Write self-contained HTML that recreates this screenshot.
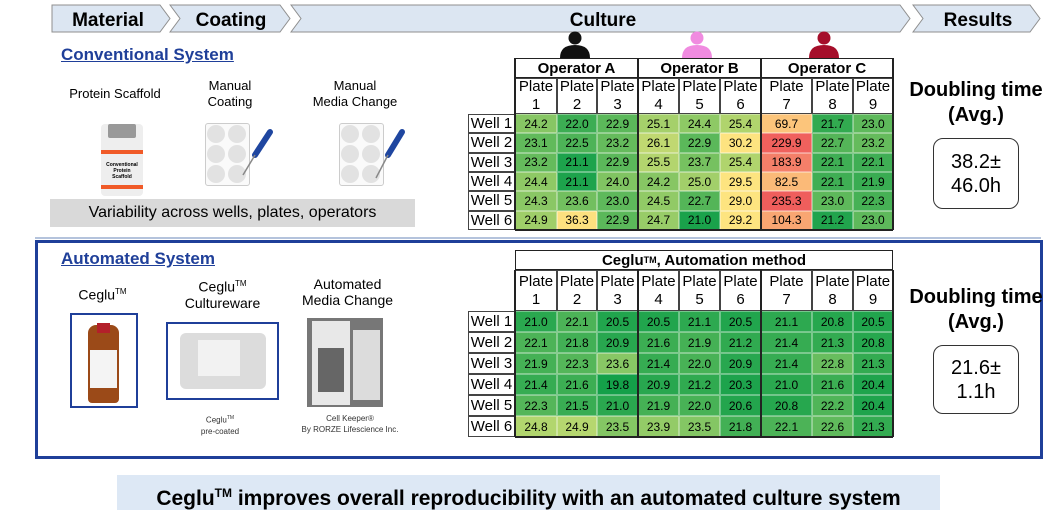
<!DOCTYPE html>
<html><head><meta charset="utf-8"><style>
body{margin:0;width:1059px;height:520px;background:#fff;position:relative;overflow:hidden;font-family:"Liberation Sans",Arial,sans-serif;color:#000}
.a{position:absolute}
.cell{position:absolute;box-sizing:border-box;display:flex;align-items:center;justify-content:center;text-align:center}
.lnk{color:#1f3f99;font-weight:bold;font-size:17px;text-decoration:underline}
.lbl{font-size:13px;line-height:16px;text-align:center}
.dt{font-weight:bold;font-size:20px;line-height:25px;text-align:center}
.box{border:1.5px solid #333;border-radius:10px;font-size:20px;line-height:24px;text-align:center;box-sizing:border-box;display:flex;align-items:center;justify-content:center}
</style></head><body>
<svg class="a" style="left:0;top:0" width="1059" height="60">
<g fill="#dce6f2" stroke="#8f8f8f" stroke-width="1">
<polygon points="52,5 160,5 170,18.5 160,32 52,32"/>
<polygon points="170,5 280,5 290,18.5 280,32 170,32 180,18.5"/>
<polygon points="291,5 900,5 910,18.5 900,32 291,32 301,18.5"/>
<polygon points="913,5 1030,5 1040,18.5 1030,32 913,32 923,18.5"/>
</g>
<g font-family="Liberation Sans,Arial,sans-serif" font-weight="bold" font-size="19" text-anchor="middle">
<text x="108" y="26">Material</text><text x="231" y="26">Coating</text><text x="603" y="26">Culture</text><text x="978" y="26">Results</text>
</g>
<circle cx="575" cy="38" r="6.5" fill="#111"/><path d="M560,58 Q560,45 575,45 Q590,45 590,58Z" fill="#111"/>
<circle cx="697" cy="38" r="6.5" fill="#f08be0"/><path d="M682,58 Q682,45 697,45 Q712,45 712,58Z" fill="#f08be0"/>
<circle cx="824" cy="38" r="6.5" fill="#a50e2a"/><path d="M809,58 Q809,45 824,45 Q839,45 839,58Z" fill="#a50e2a"/>
</svg>

<div class="a lnk" style="left:61px;top:45px">Conventional System</div>
<div class="a lbl" style="left:60px;top:86px;width:110px">Protein Scaffold</div>
<div class="a lbl" style="left:190px;top:78px;width:80px">Manual<br>Coating</div>
<div class="a lbl" style="left:300px;top:78px;width:110px">Manual<br>Media Change</div>
<div class="a" style="left:101px;top:124px;width:42px;height:72px;background:#eee;border-radius:4px"></div>
<div class="a" style="left:108px;top:124px;width:28px;height:14px;background:#999;border-radius:2px"></div>
<div class="a" style="left:101px;top:150px;width:42px;height:4px;background:#f05a28"></div>
<div class="a" style="left:101px;top:185px;width:42px;height:4px;background:#f05a28"></div>
<div class="a" style="left:99px;top:162px;width:46px;font-size:5px;font-weight:bold;text-align:center;line-height:6px">Conventional<br>Protein<br>Scaffold</div>
<div class="a" style="left:205px;top:123px;width:43px;height:61px;border:1px solid #ccc;background:#fafafa;border-radius:3px"></div>
<div class="a" style="left:339px;top:123px;width:43px;height:61px;border:1px solid #ccc;background:#fafafa;border-radius:3px"></div>
<svg class="a" style="left:0;top:0" width="470" height="200">
<g fill="#e2e2e2">
<circle cx="216" cy="134" r="9"/><circle cx="237" cy="134" r="9"/><circle cx="216" cy="154" r="9"/><circle cx="237" cy="154" r="9"/><circle cx="216" cy="174" r="9"/><circle cx="237" cy="174" r="9"/>
<circle cx="350" cy="134" r="9"/><circle cx="371" cy="134" r="9"/><circle cx="350" cy="154" r="9"/><circle cx="371" cy="154" r="9"/><circle cx="350" cy="174" r="9"/><circle cx="371" cy="174" r="9"/>
</g>
<g stroke="#1f46a0" stroke-width="6" stroke-linecap="round"><line x1="255" y1="155" x2="270" y2="132"/><line x1="388" y1="155" x2="402" y2="132"/></g>
<g stroke="#888" stroke-width="1.5"><line x1="255" y1="155" x2="243" y2="175"/><line x1="388" y1="155" x2="376" y2="178"/></g>
</svg>
<div class="a" style="left:50px;top:199px;width:365px;height:28px;background:#d9d9d9;font-size:16px;line-height:28px;text-align:center">Variability across wells, plates, operators</div>
<div class="a" style="left:35px;top:237px;width:1006px;height:2px;background:#b4c3dc"></div>

<div class="a" style="left:35px;top:240px;width:1008px;height:219px;border:3px solid #1f3f99;box-sizing:border-box"></div>
<div class="a lnk" style="left:61px;top:249px">Automated System</div>
<div class="a lbl" style="left:70px;top:284px;width:65px;font-size:14px">Ceglu<sup style="font-size:8px">TM</sup></div>
<div class="a lbl" style="left:170px;top:276px;width:105px;font-size:14px">Ceglu<sup style="font-size:8px">TM</sup><br>Cultureware</div>
<div class="a lbl" style="left:295px;top:276px;width:105px;font-size:14px">Automated<br>Media Change</div>
<div class="a" style="left:70px;top:313px;width:68px;height:95px;border:2px solid #1f3f99;box-sizing:border-box"></div>
<div class="a" style="left:88px;top:325px;width:31px;height:78px;background:#9b4a18;border-radius:8px 8px 4px 4px"></div>
<div class="a" style="left:97px;top:323px;width:13px;height:10px;background:#b3202a"></div>
<div class="a" style="left:90px;top:350px;width:27px;height:38px;background:#f4f4f4"></div>
<div class="a" style="left:166px;top:322px;width:113px;height:78px;border:2px solid #1f3f99;box-sizing:border-box"></div>
<div class="a" style="left:180px;top:333px;width:86px;height:56px;background:#dcdcdc;border-radius:6px"></div>
<div class="a" style="left:198px;top:340px;width:42px;height:36px;background:#f2f2f2"></div>
<div class="a" style="left:180px;top:413px;width:80px;font-size:8px;line-height:11px;text-align:center;color:#333">Ceglu<sup style="font-size:5px">TM</sup><br>pre-coated</div>
<div class="a" style="left:307px;top:318px;width:76px;height:89px;background:#777"></div>
<div class="a" style="left:312px;top:321px;width:38px;height:84px;background:#e8e8e8"></div>
<div class="a" style="left:353px;top:330px;width:27px;height:70px;background:#dcdcdc"></div>
<div class="a" style="left:318px;top:348px;width:26px;height:44px;background:#666"></div>
<div class="a" style="left:285px;top:413px;width:130px;font-size:8px;line-height:11px;text-align:center;color:#333">Cell Keeper®<br>By RORZE Lifescience Inc.</div>

<div class="a" style="left:117px;top:475px;width:823px;height:35px;background:#dde8f5;font-weight:bold;font-size:21px;line-height:37px;text-align:center">Ceglu<sup style="font-size:12px">TM</sup> improves overall reproducibility with an automated culture system</div>

<div class="a dt" style="left:905px;top:78px;width:142px">Doubling time<br>(Avg.)</div>
<div class="a box" style="left:933px;top:138px;width:86px;height:71px">38.2±<br>46.0h</div>
<div class="a dt" style="left:905px;top:285px;width:142px">Doubling time<br>(Avg.)</div>
<div class="a box" style="left:933px;top:345px;width:86px;height:69px">21.6±<br>1.1h</div>

<div id="t"></div>
<script>
var xs=[515,557,597,638,679,720,761,812,853,893];
function lerp(a,b,t){return a.map((v,i)=>Math.round(v+(b[i]-v)*t));}
function hex(h){return [1,3,5].map(i=>parseInt(h.substr(i,2),16));}
function ramp(stops,v){if(v<=stops[0][0])return stops[0][1];for(var i=1;i<stops.length;i++){if(v<=stops[i][0]){var t=(v-stops[i-1][0])/(stops[i][0]-stops[i-1][0]);return lerp(stops[i-1][1],stops[i][1],t);}}return stops[stops.length-1][1];}
var s1=[[21,hex('#1aa24b')],[25.5,hex('#b3d56e')],[29,hex('#fde480')],[36,hex('#fde07f')],[70,hex('#fcc57b')],[104,hex('#f9a672')],[184,hex('#f47f69')],[235,hex('#ef5e5c')]];
var s2=[[19.8,hex('#14a049')],[21,hex('#2aa84f')],[22,hex('#48b256')],[23.6,hex('#88c765')],[24.9,hex('#b6d76f')]];
var d1=[[24.2,22.0,22.9,25.1,24.4,25.4,69.7,21.7,23.0],[23.1,22.5,23.2,26.1,22.9,30.2,229.9,22.7,23.2],[23.2,21.1,22.9,25.5,23.7,25.4,183.9,22.1,22.1],[24.4,21.1,24.0,24.2,25.0,29.5,82.5,22.1,21.9],[24.3,23.6,23.0,24.5,22.7,29.0,235.3,23.0,22.3],[24.9,36.3,22.9,24.7,21.0,29.2,104.3,21.2,23.0]];
var d2=[[21.0,22.1,20.5,20.5,21.1,20.5,21.1,20.8,20.5],[22.1,21.8,20.9,21.6,21.9,21.2,21.4,21.3,20.8],[21.9,22.3,23.6,21.4,22.0,20.9,21.4,22.8,21.3],[21.4,21.6,19.8,20.9,21.2,20.3,21.0,21.6,20.4],[22.3,21.5,21.0,21.9,22.0,20.6,20.8,22.2,20.4],[24.8,24.9,23.5,23.9,23.5,21.8,22.1,22.6,21.3]];
var h='';
function cell(x,y,w,hh,txt,st){h+='<div class="cell" style="left:'+x+'px;top:'+y+'px;width:'+w+'px;height:'+hh+'px;'+st+'">'+txt+'</div>';}
function table(top,hh1,hh2,bot,data,stops,headers,vtop){
 var ptop=top+hh1,wtop=ptop+hh2,rh=(bot-wtop)/6;
 headers.forEach(function(g){cell(xs[g[0]],top,xs[g[1]]-xs[g[0]],hh1,g[2],'border:1px solid #222;font-weight:bold;font-size:15px;background:#fff');});
 for(var j=0;j<9;j++)cell(xs[j],ptop,xs[j+1]-xs[j],hh2,'Plate<br>'+(j+1),'border:1px solid #444;font-size:15px;line-height:18px;background:#fff');
 for(var i=0;i<6;i++){var y=wtop+i*rh;
  cell(468,y,47,rh,'Well '+(i+1),'border:1px solid #444;font-size:15px;background:#fff;white-space:nowrap');
  for(var j=0;j<9;j++){var c=ramp(stops,data[i][j]);cell(xs[j],y,xs[j+1]-xs[j],rh,data[i][j].toFixed(1),'background:rgb('+c+');font-size:12px;border:0.5px solid rgba(255,255,255,0.35)');}}
 var vt=vtop?ptop:top;
 [0,3,6,9].forEach(function(k){h+='<div class="a" style="left:'+(xs[k]-1)+'px;top:'+vt+'px;width:1.5px;height:'+(bot-vt)+'px;background:#222"></div>';});
 h+='<div class="a" style="left:'+xs[0]+'px;top:'+(bot-1)+'px;width:'+(xs[9]-xs[0])+'px;height:1.5px;background:#222"></div>';
}
table(58,20,36,230,d1,s1,[[0,3,'Operator A'],[3,6,'Operator B'],[6,9,'Operator C']],false);
table(250,20,41,437,d2,s2,[[0,9,'Ceglu<sup style="font-size:9px">TM</sup>, Automation method']],true);
document.getElementById('t').innerHTML=h;
</script>
</body></html>
